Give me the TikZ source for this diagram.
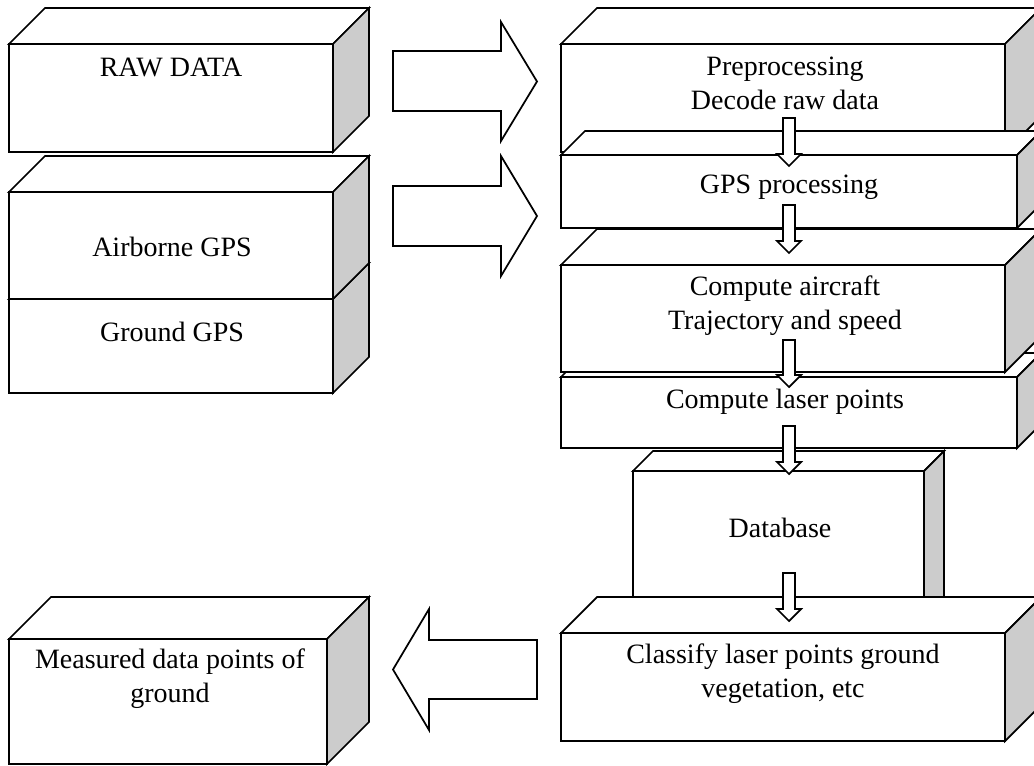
\documentclass[tikz,border=0pt]{standalone}
\usepackage{fontspec}
\setmainfont{Liberation Serif}
\definecolor{sidegray}{RGB}{204,204,204}
\tikzset{
  boxline/.style={draw=black, line width=1.3pt, line join=miter},
  blockarrow/.style={draw=black, fill=white, line width=1.3pt, line join=miter},
  lbl/.style={inner sep=0pt, align=center, anchor=base, font=\fontsize{21}{25.5}\selectfont}
}
% #1 name, #2 x1, #3 y1 (top), #4 x2, #5 y2 (bottom), #6 depth
\newcommand{\mycuboid}[6]{%
  \coordinate (#1-nw) at (#2,#3);
  \coordinate (#1-se) at (#4,#5);
  \draw[boxline, fill=white] (#2,#3) rectangle (#4,#5);
  \draw[boxline, fill=white] (#2,#3) -- (#2+#6,#3-#6) -- (#4+#6,#3-#6) -- (#4,#3) -- cycle;
  \draw[boxline, fill=sidegray] (#4,#3) -- (#4+#6,#3-#6) -- (#4+#6,#5-#6) -- (#4,#5) -- cycle;
}
% down arrow: #1 name, #2 top, #3 head base, #4 tip
\newcommand{\mydownarrow}[4]{%
  \coordinate (#1) at (789,#4);
  \draw[blockarrow] (783,#2) -- (795,#2) -- (795,#3) -- (801,#3) -- (789,#4) -- (777,#3) -- (783,#3) -- cycle;
}
\begin{document}
\begin{tikzpicture}[x=0.75pt, y=-0.75pt]
\useasboundingbox (0,0) rectangle (1034,765);
\clip (0,0) rectangle (1034,765);
\fill[white] (0,0) rectangle (1034,765);

% left column
\mycuboid{raw}{9}{44}{333}{152}{36}
\mycuboid{ground}{9}{299}{333}{393}{36}
\mycuboid{airborne}{9}{192}{333}{299}{36}
\mycuboid{measured}{9}{639}{327}{764}{42}

% right column
\mycuboid{pre}{561}{44}{1005}{152}{36}
\mycuboid{gps}{561}{155}{1017}{228}{24}
\mycuboid{laser}{561}{377}{1017}{448}{24}
\mycuboid{aircraft}{561}{265}{1005}{372}{36}
\mycuboid{db}{633}{471}{924}{620}{20}
\mycuboid{classify}{561}{633}{1005}{741}{36}

% labels (base = baseline of the last line)
\node[lbl] (tRaw) at (171,76) {RAW DATA};
\node[lbl] (tAir) at (172,256) {Airborne GPS};
\node[lbl] (tGround) at (172,341) {Ground GPS};
\node[lbl] (tMeas) at (170,702) {Measured data points of\\ground};
\node[lbl] (tPre) at (785,109) {Preprocessing\\Decode raw data};
\node[lbl] (tGps) at (789,193) {GPS processing};
\node[lbl] (tAirc) at (785,329) {Compute aircraft\\Trajectory and speed};
\node[lbl] (tLaser) at (785,408) {Compute laser points};
\node[lbl] (tDb) at (780,537) {Database};
\node[lbl] (tCls) at (783,697) {Classify laser points ground\\vegetation, etc};

% big horizontal arrows
\coordinate (r1tip) at (537,81.5);
\draw[blockarrow] (393,51) -- (501,51) -- (501,22) -- (r1tip) -- (501,141) -- (501,111) -- (393,111) -- cycle;
\coordinate (r2tip) at (537,216);
\draw[blockarrow] (393,186) -- (501,186) -- (501,156) -- (r2tip) -- (501,276) -- (501,246) -- (393,246) -- cycle;
\coordinate (ltip) at (393,669.5);
\draw[blockarrow] (537,640) -- (429,640) -- (429,609) -- (ltip) -- (429,730) -- (429,699) -- (537,699) -- cycle;

% small down arrows
\mydownarrow{d1}{118}{154}{166}
\mydownarrow{d2}{205}{241}{253}
\mydownarrow{d3}{340}{375}{387}
\mydownarrow{d4}{426}{462}{474}
\mydownarrow{d5}{573}{609}{621}
\end{tikzpicture}
\end{document}
